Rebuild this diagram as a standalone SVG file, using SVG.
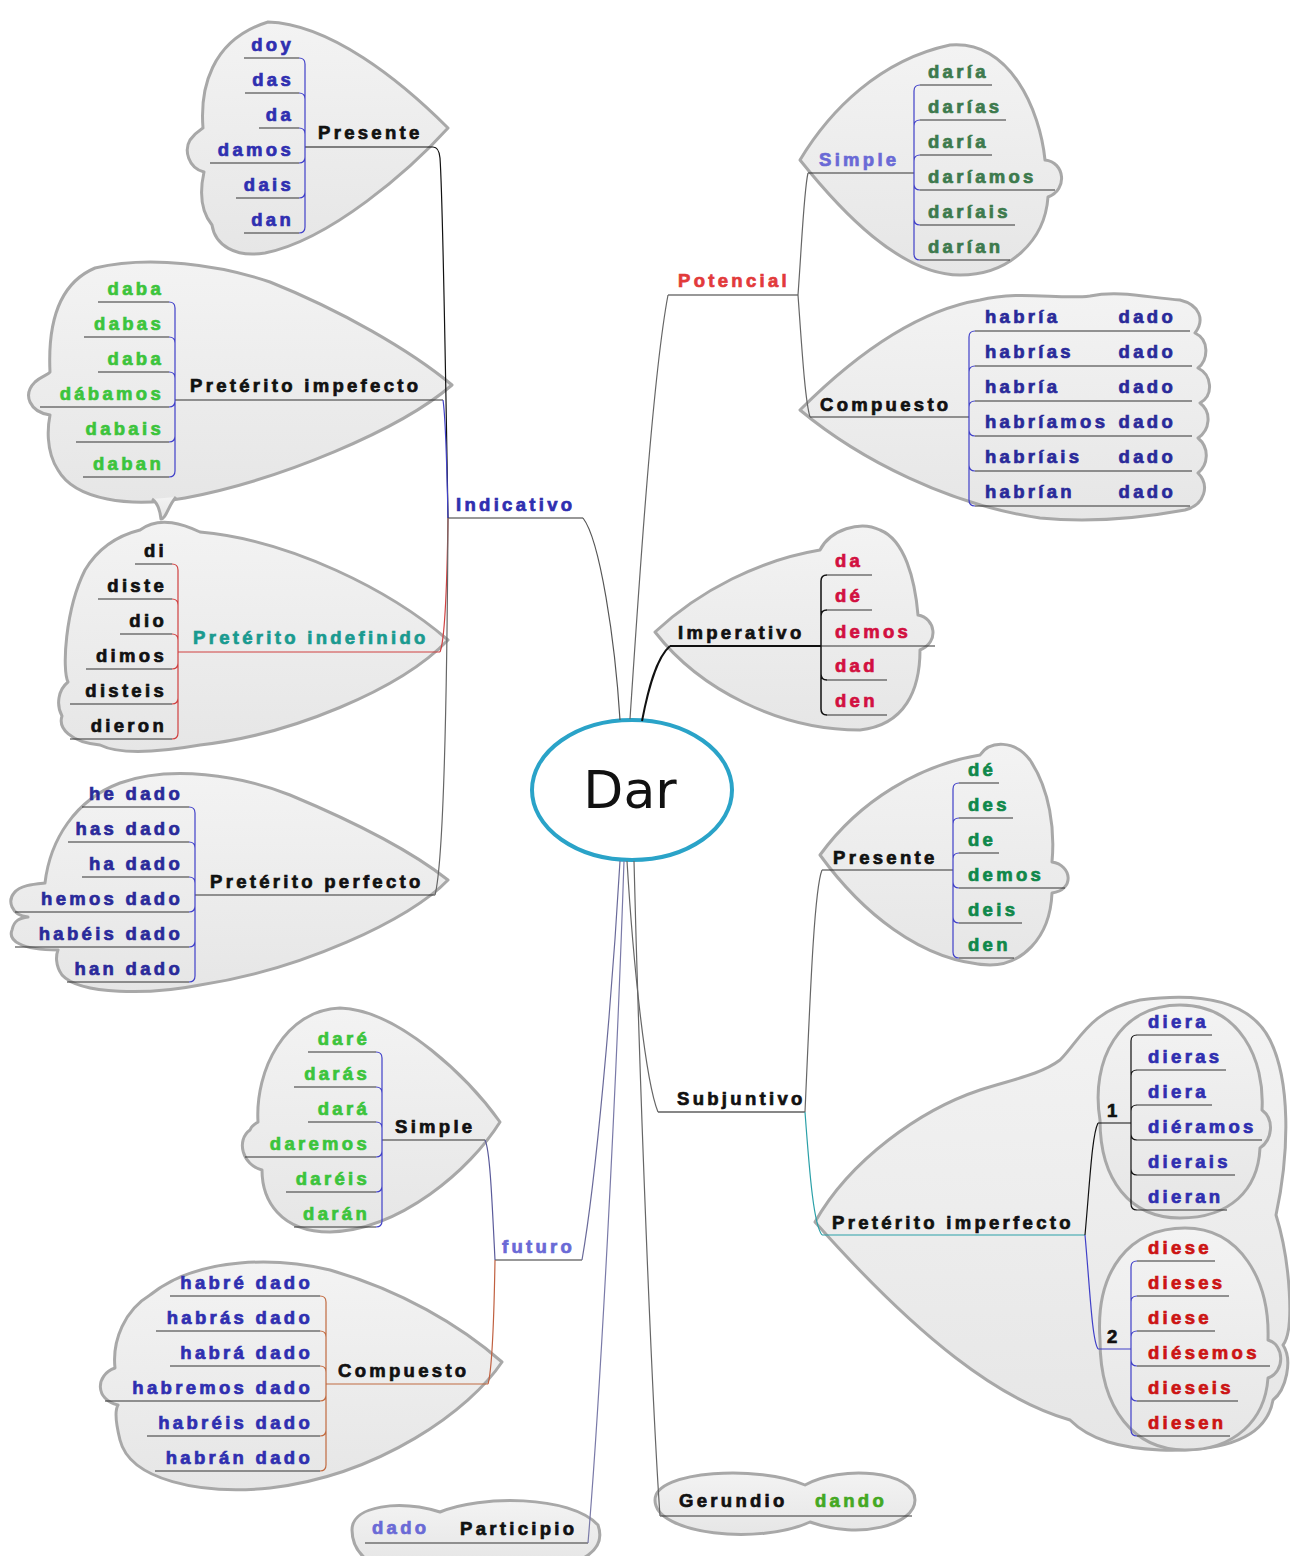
<svg xmlns="http://www.w3.org/2000/svg" width="1290" height="1556" viewBox="0 0 1290 1556">
<defs>
<linearGradient id="g" x1="0" y1="0" x2="0" y2="1">
<stop offset="0" stop-color="#f3f3f3"/>
<stop offset="1" stop-color="#e6e6e6"/>
</linearGradient>
</defs>
<style>
.cl{fill:url(#g);stroke:#a8a8a8;stroke-width:3;stroke-linejoin:round}
.t{font-family:"Liberation Sans",Arial,sans-serif;font-weight:bold;font-size:18.5px;letter-spacing:3.3px;fill:#111;stroke:#111;stroke-width:0.7}
.e{text-anchor:end}
.u{fill:none;stroke:#333;stroke-width:1.2}
.c{fill:none;stroke:#666;stroke-width:1.2}
.blue{stroke:#4040c8}
.red{stroke:#d04040}
.blk{stroke:#111}
.cBlue{fill:#2f2fb0;stroke:#2f2fb0}
.cLime{fill:#3cc43c;stroke:#3cc43c}
.cNavy{fill:#2a2a9a;stroke:#2a2a9a}
.cTeal{fill:#1a9a90;stroke:#1a9a90}
.cLav{fill:#6a6ad6;stroke:#6a6ad6}
.cDkGreen{fill:#3d7a4d;stroke:#3d7a4d}
.cCrimson{fill:#d21040;stroke:#d21040}
.cGreen{fill:#10884a;stroke:#10884a}
.cRed{fill:#cc1414;stroke:#cc1414}
.cOrange{fill:#e23a3a;stroke:#e23a3a}
.cLeaf{fill:#44a822;stroke:#44a822}
</style>
<rect width="1290" height="1556" fill="#fff"/>

<g id="n-ind-presente">
<path class="cl" d="M268,22 C330,24 400,80 448,128 C410,170 330,240 265,253 C235,258 215,245 212,225 C200,210 200,190 204,172 C188,168 184,150 190,140 C196,132 200,130 203,128 C200,90 210,40 268,22 Z"/>
<path class="u" d="M244,58H299 M245,93H299 M259,128H299 M210,163H299 M236,198H299 M244,233H299"/>
<path class="u blk" d="M305,147H433"/>
<g class="t e cBlue">
<text x="294" y="51">doy</text><text x="294" y="86">das</text><text x="294" y="121">da</text><text x="294" y="156">damos</text><text x="294" y="191">dais</text><text x="294" y="226">dan</text>
</g>
<text class="t" x="318" y="139">Presente</text>
</g>

<g id="n-ind-impefecto">
<path class="cl" d="M95,268 C150,255 220,265 270,282 C340,310 410,350 452,385 C400,430 280,480 185,498 C130,508 75,500 58,470 C45,450 48,425 50,415 C30,412 22,395 35,382 C42,376 48,375 50,372 C48,330 55,285 95,268 Z"/>
<path class="cl" d="M152,499 C158,503 160,510 161,519 C166,519 168,506 176,497"/>
<path class="u" d="M98,302H169 M84,337H169 M98,372H169 M40,407H169 M76,442H169 M83,477H169"/>
<path class="u" d="M175,400H443"/>
<g class="t e cLime">
<text x="164" y="295">daba</text><text x="164" y="330">dabas</text><text x="164" y="365">daba</text><text x="164" y="400">dábamos</text><text x="164" y="435">dabais</text><text x="164" y="470">daban</text>
</g>
<text class="t" x="190" y="392">Pretérito impefecto</text>
</g>

<g id="n-ind-indefinido">
<path class="cl" d="M140,530 C160,515 185,525 200,532 C290,540 390,590 448,640 C400,690 290,735 200,745 C160,752 120,755 100,745 C70,742 58,728 62,716 C56,705 58,690 68,682 C62,670 65,610 85,570 C100,545 120,535 140,530 Z"/>
<path class="u" d="M135,564H172 M98,599H172 M120,634H172 M86,669H172 M70,704H172 M70,739H172"/>
<path class="u red" d="M178,652H440"/>
<g class="t e">
<text x="167" y="557">di</text><text x="167" y="592">diste</text><text x="167" y="627">dio</text><text x="167" y="662">dimos</text><text x="167" y="697">disteis</text><text x="167" y="732">dieron</text>
</g>
<text class="t cTeal" x="193" y="644">Pretérito indefinido</text>
</g>

<g id="n-ind-perfecto">
<path class="cl" d="M120,783 C170,765 240,775 290,795 C350,820 410,850 448,880 C410,920 300,970 200,985 C150,995 80,995 62,975 C55,965 56,955 58,950 C20,950 8,940 12,930 C14,920 20,918 28,917 C10,915 8,900 14,893 C20,885 35,884 45,883 C50,840 75,800 120,783 Z"/>
<path class="u" d="M82,807H189 M68,842H189 M82,877H189 M15,912H189 M15,947H189 M67,982H189"/>
<path class="u" d="M195,895H435"/>
<g class="t e cNavy">
<text x="183" y="800">he dado</text><text x="183" y="835">has dado</text><text x="183" y="870">ha dado</text><text x="183" y="905">hemos dado</text><text x="183" y="940">habéis dado</text><text x="183" y="975">han dado</text>
</g>
<text class="t" x="210" y="888">Pretérito perfecto</text>
</g>

<g id="n-indicativo">
<path class="u" d="M448,518H583"/>
<text class="t cBlue" x="456" y="511">Indicativo</text>
</g>

<g id="n-potencial">
<path class="u" d="M668,295H798"/>
<text class="t cOrange" x="678" y="287">Potencial</text>
</g>

<g id="n-pot-simple">
<path class="cl" d="M800,160 C830,110 880,60 950,45 C1010,40 1040,110 1045,160 C1065,162 1068,190 1048,197 C1045,240 1010,275 960,275 C900,275 840,210 800,160 Z"/>
<path class="u" d="M920,85H992 M920,120H1006 M920,155H992 M920,190H1055 M920,225H1015 M920,260H1010"/>
<path class="u" d="M808,173H914"/>
<text class="t cLav" x="819" y="166">Simple</text>
<g class="t cDkGreen">
<text x="928" y="78">daría</text><text x="928" y="113">darías</text><text x="928" y="148">daría</text><text x="928" y="183">daríamos</text><text x="928" y="218">daríais</text><text x="928" y="253">darían</text>
</g>
</g>

<g id="n-pot-compuesto">
<path class="cl" d="M800,410 C860,350 920,310 980,300 C1020,290 1060,300 1090,296 C1120,290 1150,298 1180,300 C1200,305 1205,320 1195,333 C1210,340 1208,360 1198,368 C1212,375 1214,395 1200,403 C1212,412 1210,430 1198,438 C1210,448 1208,465 1198,473 C1210,485 1205,505 1185,510 C1130,520 1080,522 1040,518 C950,505 860,460 800,410 Z"/>
<path class="u" d="M975,331H1190 M975,366H1192 M975,401H1192 M975,436H1192 M975,471H1192 M975,506H1190"/>
<path class="u" d="M810,417H969"/>
<text class="t" x="820" y="411">Compuesto</text>
<g class="t cNavy">
<text x="985" y="323">habría</text><text x="985" y="358">habrías</text><text x="985" y="393">habría</text><text x="985" y="428">habríamos</text><text x="985" y="463">habríais</text><text x="985" y="498">habrían</text>
</g>
<g class="t e cNavy">
<text x="1176" y="323">dado</text><text x="1176" y="358">dado</text><text x="1176" y="393">dado</text><text x="1176" y="428">dado</text><text x="1176" y="463">dado</text><text x="1176" y="498">dado</text>
</g>
</g>

<g id="n-imperativo">
<path class="cl" d="M655,632 C700,590 760,560 820,550 C830,530 860,520 880,530 C905,540 915,580 918,615 C935,618 940,642 920,650 C920,690 905,725 860,730 C780,730 700,690 655,632 Z"/>
<path class="u" d="M827,575H872 M827,610H872 M821,646H935 M827,680H887 M827,715H887"/>
<path class="u blk" style="stroke-width:2" d="M670,646H821"/>
<text class="t" x="678" y="639">Imperativo</text>
<g class="t cCrimson">
<text x="835" y="567">da</text><text x="835" y="602">dé</text><text x="835" y="638">demos</text><text x="835" y="672">dad</text><text x="835" y="707">den</text>
</g>
</g>

<g id="n-dar">
<ellipse cx="632" cy="790" rx="100" ry="70" fill="#fff" stroke="#2aa3c8" stroke-width="4"/>
<text x="630" y="808" text-anchor="middle" style="font-family:'DejaVu Sans',sans-serif;font-size:52px;fill:#111">Dar</text>
</g>

<g id="n-subjuntivo">
<path class="u blk" d="M658,1112H805"/>
<text class="t" x="677" y="1105">Subjuntivo</text>
</g>

<g id="n-subj-presente">
<path class="cl" d="M820,855 C860,800 920,765 980,755 C990,740 1015,740 1030,760 C1050,790 1055,830 1052,862 C1072,865 1075,890 1052,893 C1050,940 1020,965 990,965 C920,962 860,910 820,855 Z"/>
<path class="u" d="M959,783H999 M959,818H1013 M959,853H999 M959,888H1065 M959,923H1022 M959,958H1014"/>
<path class="u" d="M822,870H953"/>
<text class="t" x="833" y="864">Presente</text>
<g class="t cGreen">
<text x="968" y="776">dé</text><text x="968" y="811">des</text><text x="968" y="846">de</text><text x="968" y="881">demos</text><text x="968" y="916">deis</text><text x="968" y="951">den</text>
</g>
</g>

<g id="n-subj-imperfecto">
<path class="cl" d="M815,1222 C850,1160 920,1110 980,1090 C1010,1080 1040,1075 1060,1060 C1080,1040 1090,1010 1140,1000 C1200,992 1250,1000 1270,1040 C1290,1080 1290,1150 1276,1215 C1290,1260 1295,1330 1283,1345 C1293,1360 1286,1390 1273,1400 C1266,1440 1220,1452 1160,1450 C1120,1448 1090,1440 1070,1420 C1000,1400 920,1340 815,1222 Z"/>
<path class="cl" d="M1100,1120 C1090,1060 1120,1005 1180,1005 C1240,1005 1265,1060 1262,1110 C1275,1120 1272,1140 1260,1148 C1258,1190 1230,1218 1180,1218 C1130,1218 1100,1180 1100,1120 Z"/>
<path class="cl" d="M1100,1340 C1095,1270 1130,1228 1185,1228 C1240,1228 1270,1280 1268,1340 C1285,1345 1285,1372 1268,1378 C1265,1420 1235,1450 1185,1450 C1135,1450 1100,1410 1100,1340 Z"/>
<path class="u" style="stroke:#2aa0a8" d="M822,1235H1085"/>
<path class="u blk" d="M1098,1123H1131"/>
<path class="u blue" d="M1098,1349H1131"/>
<path class="u" d="M1137,1035H1212 M1137,1070H1226 M1137,1105H1212 M1137,1140H1262 M1137,1175H1235 M1137,1210H1227"/>
<path class="u" d="M1137,1261H1215 M1137,1296H1229 M1137,1331H1215 M1137,1366H1270 M1137,1401H1238 M1137,1436H1230"/>
<text class="t" x="832" y="1229">Pretérito imperfecto</text>
<text class="t" x="1107" y="1117">1</text>
<text class="t" x="1107" y="1343">2</text>
<g class="t cBlue">
<text x="1148" y="1028">diera</text><text x="1148" y="1063">dieras</text><text x="1148" y="1098">diera</text><text x="1148" y="1133">diéramos</text><text x="1148" y="1168">dierais</text><text x="1148" y="1203">dieran</text>
</g>
<g class="t cRed">
<text x="1148" y="1254">diese</text><text x="1148" y="1289">dieses</text><text x="1148" y="1324">diese</text><text x="1148" y="1359">diésemos</text><text x="1148" y="1394">dieseis</text><text x="1148" y="1429">diesen</text>
</g>
</g>

<g id="n-futuro">
<path class="u" d="M495,1260H582"/>
<text class="t cLav" x="502" y="1253">futuro</text>
</g>

<g id="n-fut-simple">
<path class="cl" d="M340,1008 C400,1010 470,1080 500,1122 C470,1170 400,1230 330,1232 C280,1232 262,1200 262,1170 C242,1165 236,1140 250,1130 C252,1125 255,1124 258,1122 C255,1070 285,1010 340,1008 Z"/>
<path class="u" d="M308,1052H376 M294,1087H376 M308,1122H376 M245,1157H376 M286,1192H376 M294,1227H376"/>
<path class="u" d="M382,1140H485"/>
<text class="t" x="395" y="1133">Simple</text>
<g class="t e cLime">
<text x="370" y="1045">daré</text><text x="370" y="1080">darás</text><text x="370" y="1115">dará</text><text x="370" y="1150">daremos</text><text x="370" y="1185">daréis</text><text x="370" y="1220">darán</text>
</g>
</g>

<g id="n-fut-compuesto">
<path class="cl" d="M150,1295 C200,1255 280,1258 330,1270 C400,1290 460,1325 502,1362 C470,1410 380,1475 270,1488 C200,1495 130,1480 120,1440 C115,1420 115,1410 118,1405 C95,1400 95,1375 115,1368 C112,1340 125,1310 150,1295 Z"/>
<path class="u" d="M170,1296H320 M156,1331H320 M170,1366H320 M105,1401H320 M147,1436H320 M155,1471H320"/>
<path class="u" style="stroke:#c06a40" d="M326,1384H488"/>
<text class="t" x="338" y="1377">Compuesto</text>
<g class="t e cBlue">
<text x="313" y="1289">habré dado</text><text x="313" y="1324">habrás dado</text><text x="313" y="1359">habrá dado</text><text x="313" y="1394">habremos dado</text><text x="313" y="1429">habréis dado</text><text x="313" y="1464">habrán dado</text>
</g>
</g>

<g id="n-participio">
<path class="cl" d="M352,1530 C352,1505 400,1500 440,1512 C480,1495 570,1495 598,1525 C605,1545 590,1556 575,1562 L370,1562 C355,1552 352,1540 352,1530 Z"/>
<path class="u" d="M365,1543H588"/>
<text class="t cLav" x="372" y="1534">dado</text>
<text class="t" x="460" y="1535">Participio</text>
</g>

<g id="n-gerundio">
<path class="cl" d="M655,1500 C655,1470 760,1465 805,1485 C840,1465 915,1470 915,1500 C915,1525 860,1540 810,1522 C760,1545 655,1535 655,1500 Z"/>
<path class="u" d="M660,1516H912"/>
<text class="t" x="679" y="1507">Gerundio</text>
<text class="t cLeaf" x="815" y="1507">dando</text>
</g>

<g id="connectors">
<path class="c" style="stroke:#555" d="M620,720 C615,640 600,540 583,518"/>
<path class="c" d="M630,719 C638,600 652,380 668,295"/>
<path class="c blk" style="stroke-width:2" d="M642,721 C648,690 656,658 670,646"/>
<path class="c" d="M627,861 C633,960 645,1080 658,1112"/>
<path class="c" style="stroke:#6a6a9a" d="M620,861 C612,1000 596,1180 582,1260"/>
<path class="c" style="stroke:#7a7aa8" d="M624,861 C616,1100 600,1400 588,1543"/>
<path class="c" d="M634,861 C640,1100 652,1400 660,1516"/>
<path class="c blk" d="M448,518 C446,400 443,200 440,158 Q439,147 433,147"/>
<path class="c blue" d="M448,518 C447,470 446,420 443,400"/>
<path class="c red" d="M448,518 C447,590 445,640 440,652"/>
<path class="c" d="M448,518 C447,700 444,860 435,895"/>
<path class="c" d="M798,295 C802,240 804,190 808,173"/>
<path class="c" d="M798,295 C802,350 805,400 810,417"/>
<path class="c" d="M805,1112 C810,1000 814,890 822,870"/>
<path class="c" style="stroke:#2aa0a8" d="M805,1112 C810,1180 814,1225 822,1235"/>
<path class="c blk" d="M1085,1235 C1090,1180 1092,1135 1098,1123"/>
<path class="c blue" d="M1085,1235 C1090,1290 1092,1340 1098,1349"/>
<path class="c" style="stroke:#5a5a9a" d="M495,1260 C492,1200 490,1150 485,1140"/>
<path class="c" style="stroke:#c06040" d="M495,1260 C494,1320 492,1370 488,1384"/>
<path class="c blue" d="M299,58Q305,58 305,64V227Q305,233 299,233 M299,93Q305,93 305,99 M299,128Q305,128 305,134 M299,163Q305,163 305,157 M299,198Q305,198 305,192"/>
<path class="c blue" d="M169,302Q175,302 175,308V471Q175,477 169,477 M169,337Q175,337 175,343 M169,372Q175,372 175,378 M169,407Q175,407 175,401 M169,442Q175,442 175,436"/>
<path class="c red" d="M172,564Q178,564 178,570V733Q178,739 172,739 M172,599Q178,599 178,605 M172,634Q178,634 178,640 M172,669Q178,669 178,663 M172,704Q178,704 178,698"/>
<path class="c blue" d="M189,807Q195,807 195,813V976Q195,982 189,982 M189,842Q195,842 195,848 M189,877Q195,877 195,883 M189,912Q195,912 195,906 M189,947Q195,947 195,941"/>
<path class="c blue" d="M920,85Q914,85 914,91V254Q914,260 920,260 M920,120Q914,120 914,126 M920,155Q914,155 914,161 M920,190Q914,190 914,184 M920,225Q914,225 914,219"/>
<path class="c blue" d="M975,331Q969,331 969,337V500Q969,506 975,506 M975,366Q969,366 969,372 M975,401Q969,401 969,407 M975,436Q969,436 969,430 M975,471Q969,471 969,465"/>
<path class="c blk" style="stroke-width:1.5" d="M827,575Q821,575 821,581V709Q821,715 827,715 M827,610Q821,610 821,616 M827,680Q821,680 821,674"/>
<path class="c blue" d="M959,783Q953,783 953,789V952Q953,958 959,958 M959,818Q953,818 953,824 M959,853Q953,853 953,859 M959,888Q953,888 953,882 M959,923Q953,923 953,917"/>
<path class="c blk" d="M1137,1035Q1131,1035 1131,1041V1204Q1131,1210 1137,1210 M1137,1070Q1131,1070 1131,1076 M1137,1105Q1131,1105 1131,1111 M1137,1140Q1131,1140 1131,1134 M1137,1175Q1131,1175 1131,1169"/>
<path class="c blue" d="M1137,1261Q1131,1261 1131,1267V1430Q1131,1436 1137,1436 M1137,1296Q1131,1296 1131,1302 M1137,1331Q1131,1331 1131,1337 M1137,1366Q1131,1366 1131,1360 M1137,1401Q1131,1401 1131,1395"/>
<path class="c blue" d="M376,1052Q382,1052 382,1058V1221Q382,1227 376,1227 M376,1087Q382,1087 382,1093 M376,1122Q382,1122 382,1128 M376,1157Q382,1157 382,1151 M376,1192Q382,1192 382,1186"/>
<path class="c" style="stroke:#c06a40" d="M320,1296Q326,1296 326,1302V1465Q326,1471 320,1471 M320,1331Q326,1331 326,1337 M320,1366Q326,1366 326,1372 M320,1401Q326,1401 326,1395 M320,1436Q326,1436 326,1430"/>
</g>
</svg>
